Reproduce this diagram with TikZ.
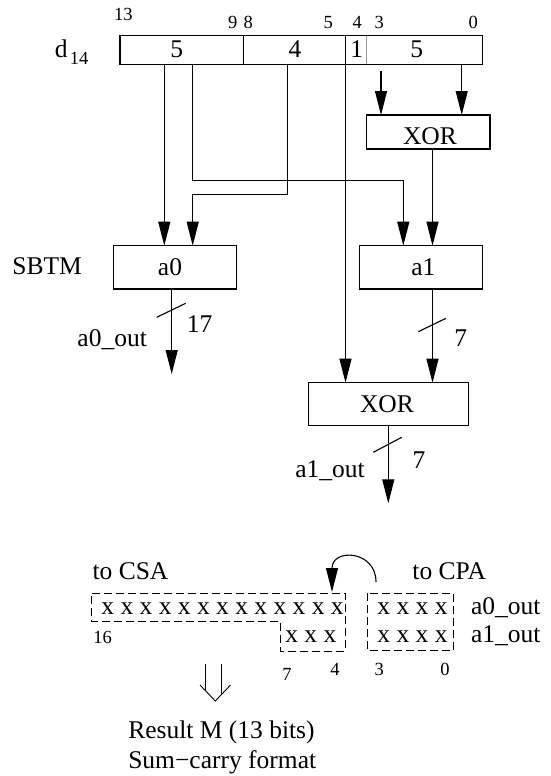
\documentclass[tikz,border=0pt]{standalone}
\usepackage{fontspec}
\setmainfont{Liberation Serif}
\usetikzlibrary{arrows.meta}
\begin{document}
\begin{tikzpicture}[x=1pt,y=-1pt, line width=1.1pt,
  every node/.style={inner sep=0pt, outer sep=0pt},
  big/.style={font=\fontsize{25.5}{30}\selectfont},
  small/.style={font=\fontsize{18.5}{22}\selectfont},
  blk/.style={draw, rectangle, line width=1.1pt},
  arr/.style={-{Triangle[length=24pt,width=12pt]}},
  dsh/.style={dash pattern=on 8pt off 4pt, line width=1pt}]
\useasboundingbox (0,0) rectangle (550,776);

% d14 word
\node[blk, minimum width=123.3pt, minimum height=28.6pt] (f1) at (181.65,50) {};
\node[blk, minimum width=102.2pt, minimum height=28.6pt] (f2) at (294.4,50) {};
\node[minimum width=21.2pt, minimum height=28.6pt] (f3) at (356.1,50) {};
\node[minimum width=116pt, minimum height=28.6pt] (f4) at (424.7,50) {};
\draw (f3.north west) -- (f4.north east) -- (f4.south east) -- (f3.south west);
\draw[line width=0.6pt, black!40] (f4.north west) -- (f4.south west);

\node[big, anchor=base] (t1) at (176.7,57.3) {5};
\node[big, anchor=base] (t2) at (295,57.3) {4};
\node[big, anchor=base] (t3) at (356.7,57.3) {1};
\node[big, anchor=base] (t4) at (416.7,57.3) {5};

\node[small, anchor=base] (b13) at (123.3,20.7) {13};
\node[small, anchor=base] (b9) at (232.7,28.3) {9};
\node[small, anchor=base] (b8) at (248.3,28.3) {8};
\node[small, anchor=base] (b5) at (328.3,28.3) {5};
\node[small, anchor=base] (b4) at (357.3,28.3) {4};
\node[small, anchor=base] (b3) at (379.3,28.3) {3};
\node[small, anchor=base] (b0) at (473.3,28.3) {0};

\node[big, anchor=base] (dl) at (61.3,57.3) {d};
\node[small, anchor=base] (dsub) at (79.2,64) {14};

% blocks
\node[blk, minimum width=123.3pt, minimum height=34pt] (x1) at (428.35,132) {};
\node[big, anchor=base] (x1t) at (430,144) {XOR};
\node[blk, minimum width=123.4pt, minimum height=43.3pt] (a0) at (175,267.35) {};
\node[big, anchor=base] (a0t) at (170,275) {a0};
\node[blk, minimum width=123.4pt, minimum height=43.3pt] (a1) at (421,267.35) {};
\node[big, anchor=base] (a1t) at (423.3,275) {a1};
\node[blk, minimum width=160pt, minimum height=43pt] (x2) at (388.3,404.2) {};
\node[big, anchor=base] (x2t) at (387,412.7) {XOR};
\node[big, anchor=base] (sbtm) at (47.2,274) {SBTM};

% connectors
\coordinate (c1) at (164.3,0);
\coordinate (c2) at (192.7,0);
\coordinate (c3) at (287.3,0);
\coordinate (c4) at (345.5,0);
\coordinate (c6) at (461.7,0);
\coordinate (c7) at (432.5,0);
\coordinate (c8) at (403.3,0);
\coordinate (h1) at (0,180.7);
\coordinate (h2) at (0,194.3);
\coordinate (s5) at (381,71);
\coordinate (e0) at (171.7,374);
\coordinate (e1) at (388.3,503.3);

\draw[arr] (f1.south -| c1) -- (a0.north -| c1);
\draw[arr] (f1.south -| c2) -- (c2 |- h1) -- (c8 |- h1) -- (a1.north -| c8);
\draw[arr] (f2.south -| c3) -- (c3 |- h2) -- (c2 |- h2) -- (a0.north -| c2);
\draw[arr] (f3.south west) -- (x2.north -| c4);
\draw[arr] (s5) -- (x1.north -| s5);
\draw[arr] (f4.south -| c6) -- (x1.north -| c6);
\draw[arr] (x1.south -| c7) -- (a1.north -| c7);
\draw[arr] (a1.south -| c7) -- (x2.north -| c7);
\draw[arr] (a0.south -| e0) -- (e0);
\draw[arr] (x2.south) -- (e1);

% bus width marks
\draw (156.7,317.3) -- (185.7,303.3);
\draw (418.3,331.7) -- (446,318.3);
\draw (373.3,452.3) -- (401.7,437.3);
\node[big, anchor=base] (w17) at (199.5,332.3) {17};
\node[big, anchor=base] (a0o) at (112.2,346.7) {a0\_out};
\node[big, anchor=base] (w7a) at (460.7,346.7) {7};
\node[big, anchor=base] (w7b) at (419,468) {7};
\node[big, anchor=base] (a1o) at (330,477.3) {a1\_out};

% bottom part
\node[big, anchor=base] (csa) at (130.5,579.3) {to CSA};
\node[big, anchor=base] (cpa) at (449.2,579.3) {to CPA};
\draw[arr] (376,582) .. controls (376,550) and (332,548) .. (332,592);

\draw[dsh] (91.7,593) -- (345,593) -- (345,651) -- (280,651) -- (280,621.7) -- (91.7,621.7) -- cycle;
\draw[dsh] (367.7,593) rectangle (453.3,650.5);
\node[big, anchor=base] (r1a) at (222.5,614) {x x x x x x x x x x x x x};
\node[big, anchor=base] (r1b) at (412.5,614) {x x x x};
\node[big, anchor=base] (r2a) at (310.8,642.7) {x x x};
\node[big, anchor=base] (r2b) at (412.5,642.7) {x x x x};
\node[big, anchor=base] (l0) at (505.8,614) {a0\_out};
\node[big, anchor=base] (l1) at (505.8,642.7) {a1\_out};
\node[small, anchor=base] (n16) at (102.5,643.3) {16};
\node[small, anchor=base] (n7) at (287,680) {7};
\node[small, anchor=base] (n4) at (335,675) {4};
\node[small, anchor=base] (n3) at (379.3,675) {3};
\node[small, anchor=base] (n0) at (445,675) {0};

\draw[line width=0.9pt] (205,664) -- (205,690.3);
\draw[line width=0.9pt] (221.7,664) -- (221.7,694.3);
\draw[line width=0.9pt, line join=miter] (200,685) -- (215.3,701) -- (230.5,685);

\node[big, anchor=base west] (res1) at (128.3,738.3) {Result M (13 bits)};
\node[big, anchor=base west] (res2) at (128.3,768.3) {Sum−carry format};
\end{tikzpicture}
\end{document}
